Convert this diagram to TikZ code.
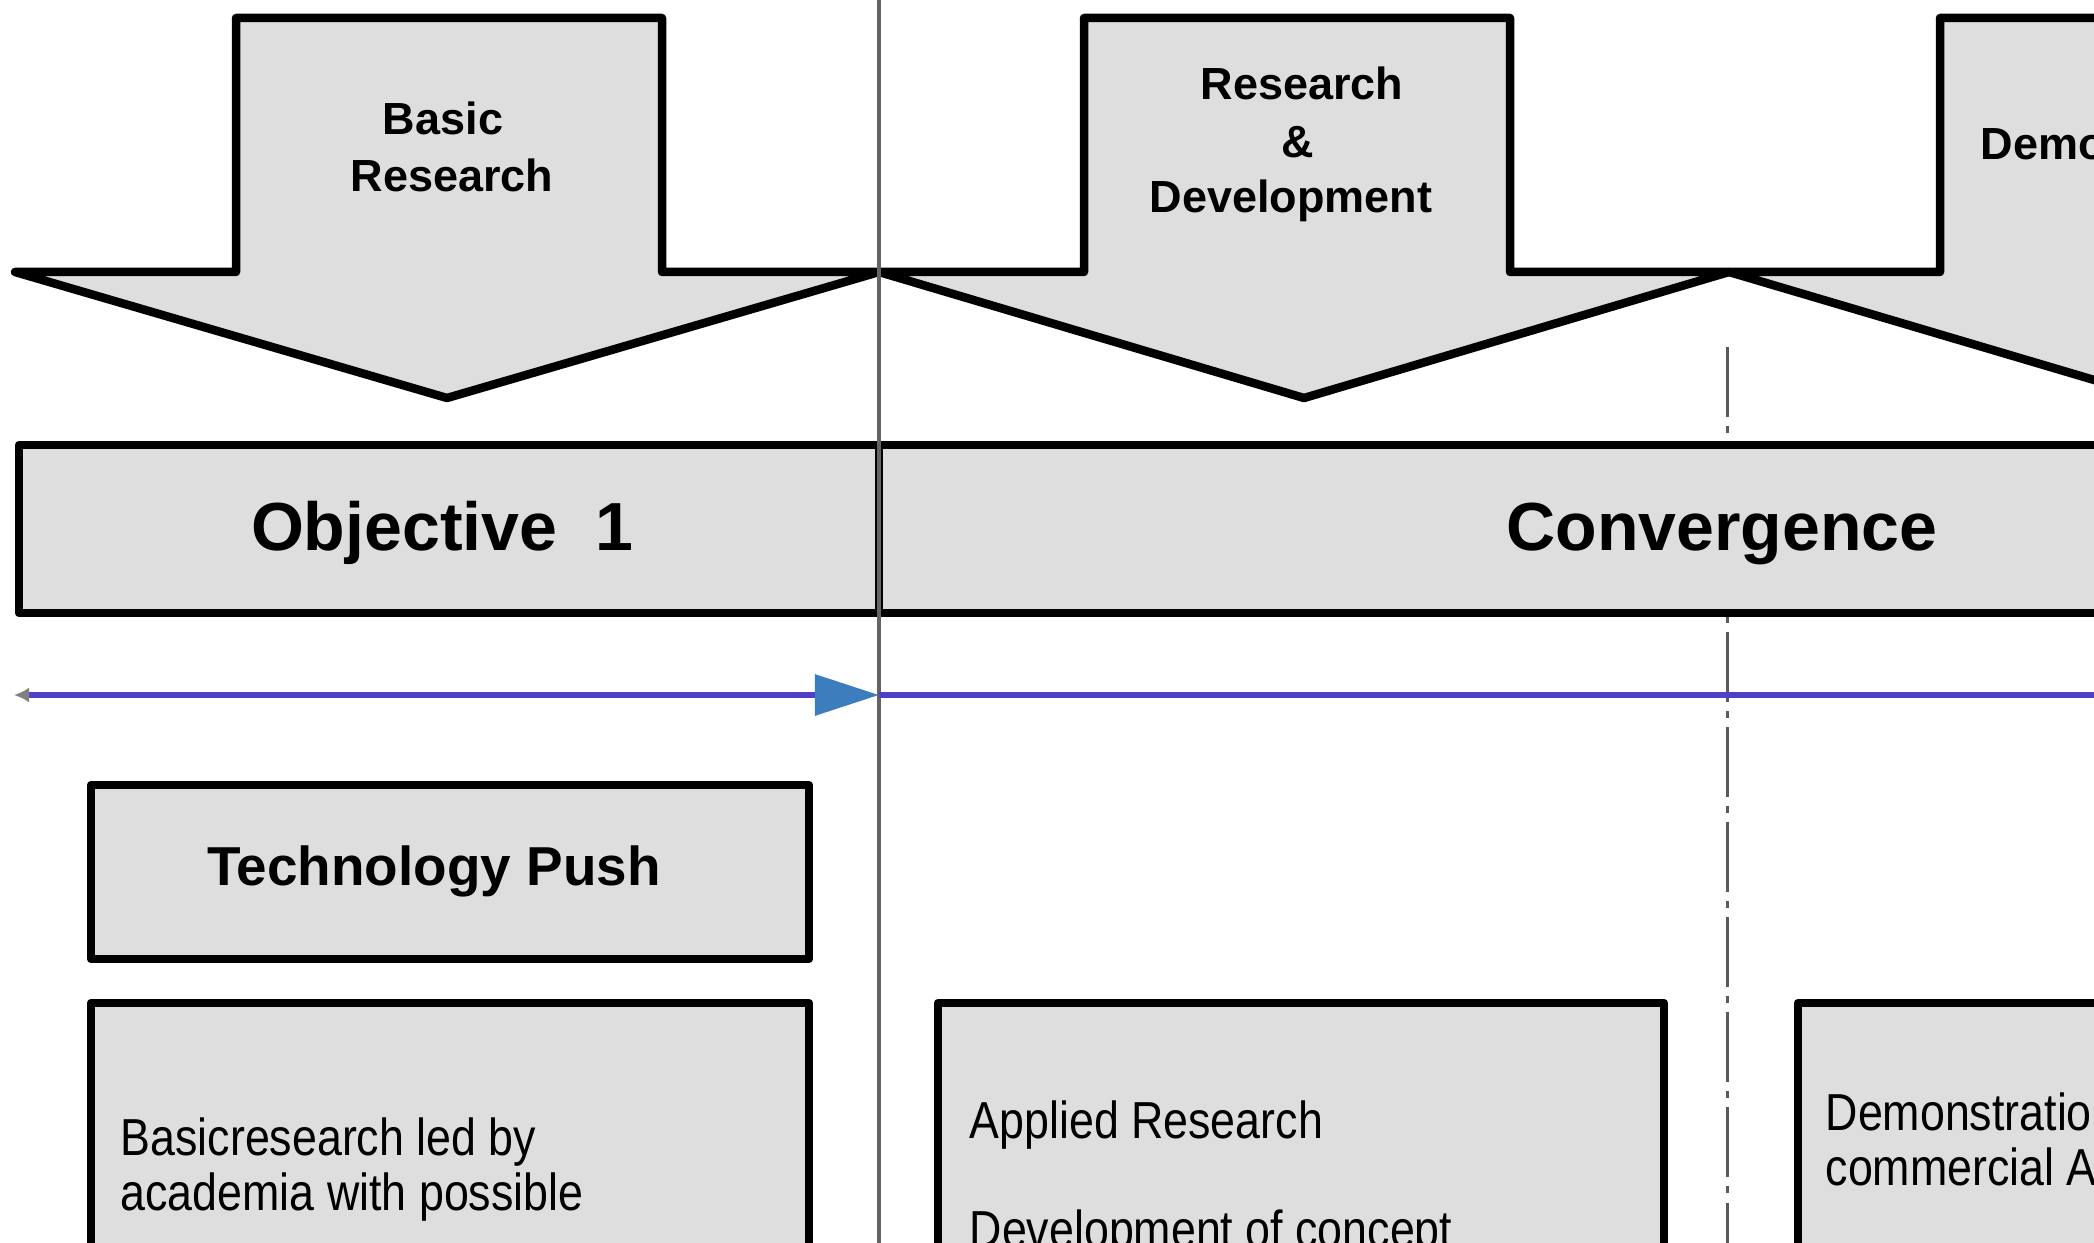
\documentclass[tikz,border=0pt]{standalone}
\usepackage{fontspec}
\setmainfont{Liberation Sans}
\newfontfamily\bodyfont[FakeStretch=0.86]{Liberation Sans}
\usetikzlibrary{arrows.meta}
\definecolor{boxfill}{RGB}{222,222,222}
\definecolor{divider}{RGB}{100,100,100}
\definecolor{dashgray}{RGB}{90,90,90}
\definecolor{timeline}{RGB}{80,64,200}
\definecolor{headblue}{RGB}{60,125,190}
\tikzset{
  outline/.style={draw=black, line width=0.085cm, fill=boxfill, line join=round},
  arrowlabel/.style={font=\bfseries\fontsize{12.8}{15}\selectfont, inner sep=0pt, anchor=base},
  titlelabel/.style={font=\bfseries\fontsize{19.35}{22}\selectfont, inner sep=0pt, anchor=base},
  headlabel/.style={font=\bfseries\fontsize{15.6}{18}\selectfont, inner sep=0pt, anchor=base},
  bodytext/.style={font=\bodyfont\fontsize{14.8}{17}\selectfont, inner sep=0pt, anchor=base west},
  timelinestyle/.style={draw=timeline, line width=0.06cm},
}
\begin{document}
\begin{tikzpicture}[x=0.01cm,y=-0.01cm]
\useasboundingbox (0,0) rectangle (2094,1243);
\clip (0,0) rectangle (2094,1243);
\fill[white] (0,0) rectangle (2094,1243);

% block arrows
\draw[outline] (236,18) -- (662,18) -- (662,272) -- (879,272) -- (447,398) -- (15,272) -- (236,272) -- cycle;
\draw[outline] (1084,18) -- (1510,18) -- (1510,272) -- (1729,272) -- (1304,398) -- (879,272) -- (1084,272) -- cycle;
\draw[outline] (1940,18) -- (2366,18) -- (2366,272) -- (2580,272) -- (2155,398) -- (1729,272) -- (1940,272) -- cycle;

\node[arrowlabel] (br1) at (443,135) {Basic};
\node[arrowlabel] (br2) at (452,192) {Research};
\node[arrowlabel] (rd1) at (1302,100) {Research};
\node[arrowlabel] (rd2) at (1298,158) {\&};
\node[arrowlabel] (rd3) at (1291,213) {Development};
\node[arrowlabel, anchor=base west] (dm1) at (1980,160) {Demonstration};

% dash-dot divider
\draw[dashgray, line width=0.03cm, dash pattern=on 0.7cm off 0.09cm on 0.07cm off 0.09cm] (1727,347) -- (1727,1260);

% band boxes
\draw[outline] (19,445) rectangle (879,613);
\draw[outline] (879,445) rectangle (2600,613);
\node[titlelabel] (obj) at (442,550) {Objective~~1};
\node[titlelabel] (conv) at (1722,550) {Convergence};

% lower boxes
\draw[outline] (91,785) rectangle (809,959);
\node[headlabel] (tp) at (434,885) {Technology Push};
\draw[outline] (91,1003) rectangle (809,1300);
\draw[outline] (938,1003) rectangle (1664,1300);
\draw[outline] (1798,1003) rectangle (2524,1300);

\node[bodytext] (b1) at (120,1155) {Basicresearch led by};
\node[bodytext] (b2) at (120,1210) {academia with possible};
\node[bodytext] (c1) at (969,1138) {Applied Research};
\node[bodytext] (c2) at (969,1247) {Development of concept};
\node[bodytext] (d1) at (1825,1130) {Demonstration of};
\node[bodytext] (d2) at (1825,1185) {commercial Applications};

% solid divider
\draw[divider, line width=0.04cm] (879,-10) -- (879,1260);

% timeline
\coordinate (tl) at (14,695);
\coordinate (tm) at (879,695);
\coordinate (tr) at (2120,695);
\draw[timelinestyle] (tm) -- (tr);
\draw[timelinestyle, {Latex[length=0.15cm,width=0.15cm,color=gray]}-{Triangle[length=0.64cm,width=0.4cm,color=headblue]}] (tl) -- (tm);
\end{tikzpicture}
\end{document}
